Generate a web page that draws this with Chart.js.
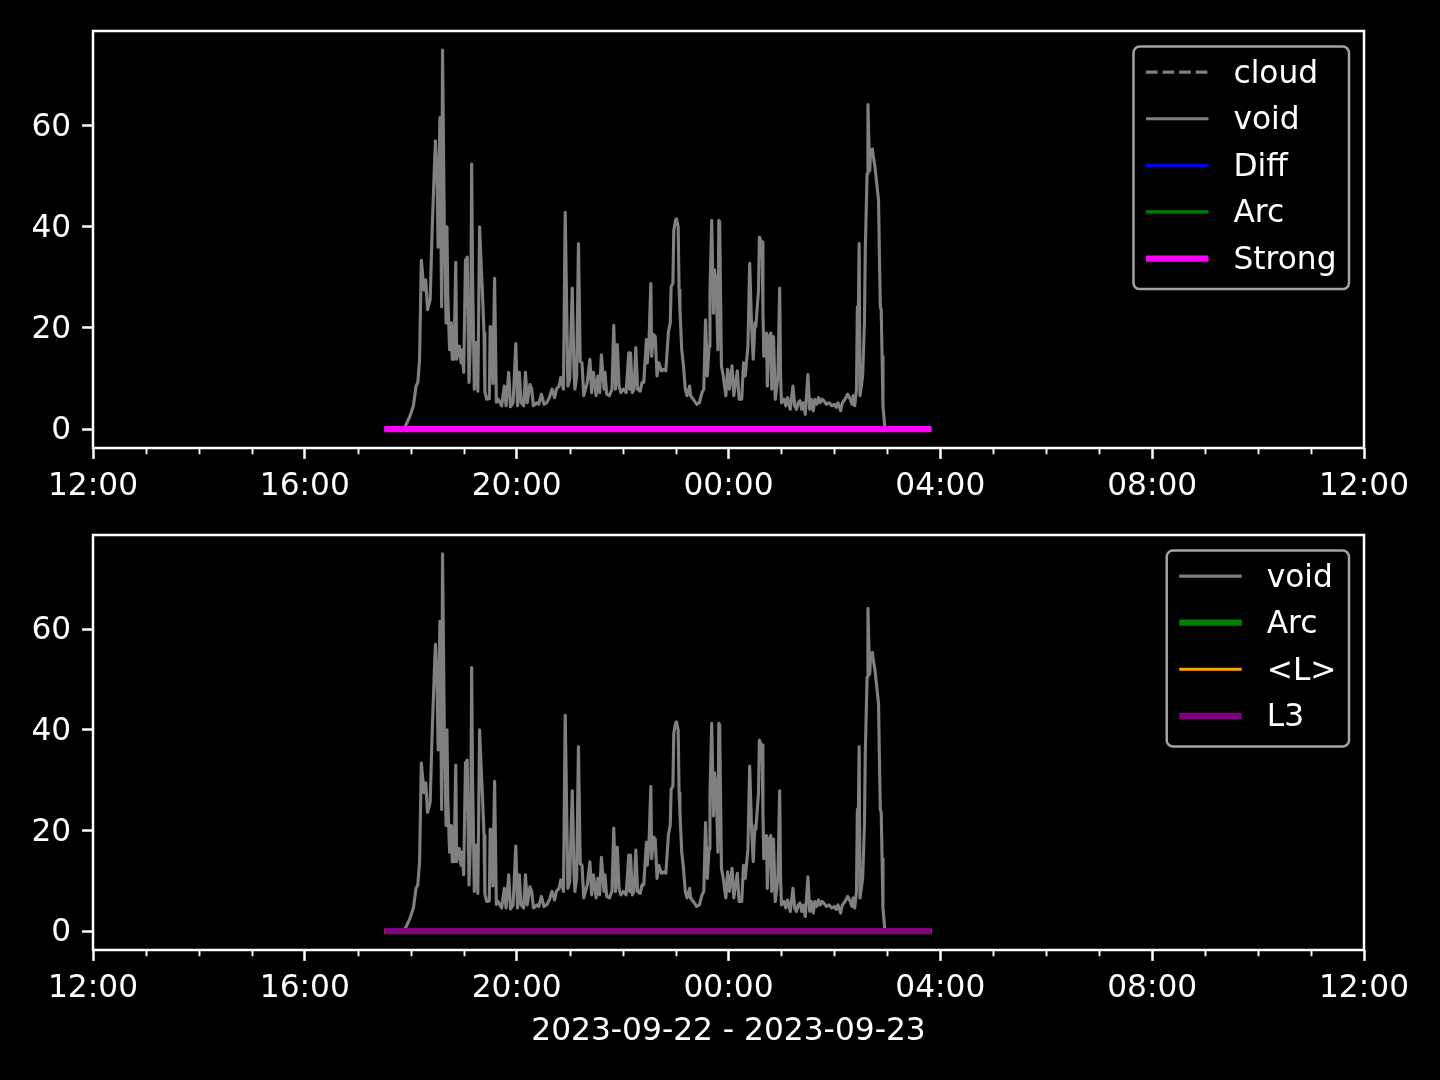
<!DOCTYPE html>
<html><head><meta charset="utf-8">
<script src="https://cdn.jsdelivr.net/npm/chart.js@4.4.1/dist/chart.umd.min.js"></script>
<style>
html,body{margin:0;padding:0;background:#000;width:1440px;height:1080px;overflow:hidden}
canvas{position:absolute;left:0}
#c1{top:0}
#c2{top:500px}
</style></head><body>
<canvas id="c1" width="1440" height="500"></canvas>
<canvas id="c2" width="1440" height="580"></canvas>
<script>
// ---- data (x = minutes after 2023-09-22 12:00) ----
const voidMinutes = [330,352,354,359,363,366,368,370,372,375,377,379,382,384,387,388,390,391,393,395,396,398,400,401,402,404,406,407,409,411,412,415,417,418,420,422,424,426,428,429,430,432,434,436,438,440,441,443,444,446,449,450,452,453,455,457,459,463,466,468,471,473,476,479,481,483,485,488,490,492,495,497,499,503,505,508,511,514,517,520,523,525,528,530,533,535,538,540,543,545,546,548,550,552,554,556,558,560,563,565,567,570,572,574,576,579,580,582,585,588,590,592,594,596,598,601,604,607,608,609,611,613,615,617,620,622,624,627,628,630,632,633,635,637,639,641,644,647,649,652,654,655,657,658,660,661,663,664,665,667,669,671,673,676,677,680,684,687,690,692,694,696,698,699,701,703,704,706,708,709,710,712,714,717,719,721,724,726,728,730,732,735,737,739,742,744,746,748,750,751,754,755,756,758,759,760,763,764,766,768,769,771,773,776,778,779,780,783,785,787,790,793,795,797,799,801,803,805,807,808,810,812,814,816,818,820,822,824,826,828,831,834,837,840,842,844,847,849,852,855,858,860,861,863,865,866,867,868,869,871,872,874,875,877,878,879,880,881,883,884,886,888,890,891,892,893,894,895,897,898,950];
const voidValues = [0,0.2,0.6,2.5,4.6,8.5,9.2,13.8,33.4,27.5,29.5,23.6,25.6,38,53,57,47.8,36,61.6,24.2,75,40,21,40,26.2,15.7,21,13.8,13.8,33,13.8,16.4,13.1,15.7,11.2,33.4,34,9.2,20,52.4,31,7.9,17.1,7.5,40,31.5,28,19,7.3,5.9,6,20.3,20,9,29.8,5.3,5.9,4.6,8.5,4.6,11.2,4.4,5.2,16.9,4.6,11.2,5.2,4.6,11.2,5.2,8.8,7.9,4.6,5.2,4.9,6.9,4.9,5.2,6.2,7.9,6.2,7.9,8.5,10.2,7.9,42.9,8.5,9.8,27.9,11.2,7.9,10.5,36.7,13.4,13.1,6.6,7.9,9.2,13.8,7.2,11.2,6.6,10.5,7.2,14.7,7.9,11.2,6.9,6.6,7.9,20.5,7.9,16.7,8.5,7.2,7.9,7.2,15.1,7.9,15.1,7.2,7.9,16.1,7.9,7.5,9.2,9.2,17.7,13.1,17.7,28.8,14.4,18.7,18.3,10.5,13.1,11.5,11.8,11.5,19.3,21,28.2,28.8,39.3,41.3,41.6,40,27.5,23.6,15.7,12.5,7.9,6.6,8.5,6.6,5.9,4.9,5.2,7.2,7.9,21.6,10.5,16.4,27,41.3,22.9,31.5,28.8,15.7,41.3,41,12.5,10.5,6.6,11.8,7.9,12.5,6.6,9.2,11.5,5.9,5.9,13.1,10.5,16.4,32.8,21,13.8,21,20.3,27.5,38,37.4,37,23.6,14.4,19,8.5,18.3,19,7.9,18.3,5.9,10.5,27.9,10.5,5.2,5.9,4.6,6.2,3.9,8.5,4.6,3.9,5.2,5.6,3.9,5.2,2.9,5.6,10.8,3.9,5.9,3.6,5.9,4.9,6.2,5.2,5.9,5.6,4.9,5.2,4.6,4.9,4.3,5.2,3.6,5.2,5.9,6.9,5.9,4.9,6.6,4.6,7.9,24.2,21,36.7,6.6,9.2,10.5,21,35.4,50.5,64.2,57,51.1,55,55.4,54,51.8,48.5,45.2,34,24.2,23.6,14.4,4.6,0.6,0,0];
// series that stay at zero from 17:30 to 03:50
const flatMinutes = [330, 950];
const cloudValues = [0, 0];
const diffValues = [0, 0];
const arcValues = [0, 0];
const strongValues = [0, 0];
const meanLValues = [0, 0];
const l3Values = [0, 0];
// axes
const xTickMinutes = [0, 240, 480, 720, 960, 1200, 1440];
const xTickLabels = ['12:00', '16:00', '20:00', '00:00', '04:00', '08:00', '12:00'];
const xMinorStep = 60;
const yTicks = [0, 20, 40, 60];
const yMin = -3.75, yMax = 78.75;
const dateLabel = '2023-09-22 - 2023-09-23';

// ---- styling ----
const FS = 31.25;
const FONT = "'DejaVu Sans', sans-serif";
Chart.defaults.font.family = FONT;
Chart.defaults.font.size = FS;
Chart.defaults.color = '#ffffff';

const pts = (xs, ys) => xs.map((m, i) => ({x: m, y: ys[i]}));

const framePlugin = {
  id: 'framePlugin',
  afterDraw(chart) {
    const {ctx, chartArea: a} = chart;
    const xs = chart.scales.x;
    ctx.save();
    // minor ticks
    ctx.strokeStyle = '#ffffff';
    ctx.lineWidth = 1.9;
    for (let m = xMinorStep; m < xs.max; m += xMinorStep) {
      if (xTickMinutes.includes(m)) continue;
      const px = Math.round(xs.getPixelForValue(m)) + 0.5;
      ctx.beginPath();
      ctx.moveTo(px, a.bottom);
      ctx.lineTo(px, a.bottom + 6.25);
      ctx.stroke();
    }
    // spines
    ctx.lineWidth = 2.5;
    ctx.strokeRect(a.left, a.top, a.right - a.left, a.bottom - a.top);
    ctx.restore();
    // legend
    const items = chart.data.datasets;
    ctx.save();
    ctx.font = FS + 'px ' + FONT;
    const textW = Math.max(...items.map(d => ctx.measureText(d.label).width));
    const pad = 0.4 * FS, hl = 2 * FS, htp = 0.8 * FS;
    const w = pad + hl + htp + textW + pad;
    const rowGap = 46.6, firstRow = 25.6;
    const h = firstRow + (items.length - 1) * rowGap + 30.6;
    const right = a.right - 15, top = a.top + 15.5;
    const left = right - w;
    const r = 6.25;
    ctx.beginPath();
    ctx.moveTo(left + r, top);
    ctx.lineTo(right - r, top);
    ctx.arcTo(right, top, right, top + r, r);
    ctx.lineTo(right, top + h - r);
    ctx.arcTo(right, top + h, right - r, top + h, r);
    ctx.lineTo(left + r, top + h);
    ctx.arcTo(left, top + h, left, top + h - r, r);
    ctx.lineTo(left, top + r);
    ctx.arcTo(left, top, left + r, top, r);
    ctx.closePath();
    ctx.fillStyle = 'rgba(0,0,0,0.8)';
    ctx.fill();
    ctx.strokeStyle = 'rgba(204,204,204,0.8)';
    ctx.lineWidth = 2.5;
    ctx.stroke();
    items.forEach((d, i) => {
      const y = top + firstRow + i * rowGap;
      ctx.beginPath();
      ctx.setLineDash(d.borderDash || []);
      ctx.strokeStyle = d.borderColor;
      ctx.lineWidth = d.borderWidth;
      ctx.lineCap = 'butt';
      ctx.moveTo(left + pad, y);
      ctx.lineTo(left + pad + hl, y);
      ctx.stroke();
      ctx.setLineDash([]);
      ctx.fillStyle = '#ffffff';
      ctx.textBaseline = 'alphabetic';
      ctx.textAlign = 'left';
      ctx.fillText(d.label, left + pad + hl + htp, y + 10.5);
    });
    ctx.restore();
  }
};

function lineDs(label, xs, ys, color, width, order, dash) {
  return {
    label, data: pts(xs, ys), borderColor: color, backgroundColor: color,
    borderWidth: width, borderDash: dash || [], pointRadius: 0, pointHoverRadius: 0,
    fill: false, tension: 0, borderCapStyle: 'butt', borderJoinStyle: 'round', order
  };
}

function makeOptions(padTop, xHeight, withTitle) {
  return {
    responsive: false, animation: false, devicePixelRatio: 1,
    layout: {padding: {top: padTop, right: 76, bottom: 0, left: 0}},
    plugins: {legend: {display: false}, tooltip: {enabled: false}},
    events: [],
    scales: {
      x: {
        type: 'linear', min: 0, max: 1440,
        afterBuildTicks: s => { s.ticks = xTickMinutes.map(v => ({value: v})); },
        afterFit: s => { s.height = xHeight; },
        ticks: {autoSkip: false, maxRotation: 0, padding: 9, color: '#ffffff',
          callback: (v, i) => xTickLabels[i]},
        grid: {drawOnChartArea: false, drawTicks: true, tickLength: 10.9, tickWidth: 2.5,
          tickColor: '#ffffff', color: '#ffffff'},
        border: {display: false},
        title: withTitle ? {display: true, text: dateLabel, color: '#ffffff',
          font: {size: FS}, padding: {top: 0, bottom: 29}} : {display: false}
      },
      y: {
        type: 'linear', min: yMin, max: yMax,
        afterBuildTicks: s => { s.ticks = yTicks.map(v => ({value: v})); },
        afterFit: s => { s.width = 93; },
        ticks: {padding: 10.9, labelOffset: 2, color: '#ffffff', callback: v => String(v)},
        grid: {drawOnChartArea: false, drawTicks: true, tickLength: 10.9, tickWidth: 2.5,
          tickColor: '#ffffff', color: '#ffffff'},
        border: {display: false}
      }
    }
  };
}

new Chart(document.getElementById('c1'), {
  type: 'line',
  data: {datasets: [
    lineDs('cloud', flatMinutes, cloudValues, '#808080', 3.125, 4, [11.6, 5]),
    lineDs('void', voidMinutes, voidValues, '#808080', 3.125, 3),
    lineDs('Diff', flatMinutes, diffValues, '#0000ff', 3.125, 2),
    lineDs('Arc', flatMinutes, arcValues, '#008000', 3.125, 1),
    lineDs('Strong', flatMinutes, strongValues, '#ff00ff', 6.25, 0)
  ]},
  options: makeOptions(31, 52, false),
  plugins: [framePlugin]
});

new Chart(document.getElementById('c2'), {
  type: 'line',
  data: {datasets: [
    lineDs('void', voidMinutes, voidValues, '#808080', 3.125, 3),
    lineDs('Arc', flatMinutes, arcValues, '#008000', 6.25, 2),
    lineDs('<L>', flatMinutes, meanLValues, '#ffa500', 3.125, 1),
    lineDs('L3', flatMinutes, l3Values, '#800080', 6.25, 0)
  ]},
  options: makeOptions(35, 130, true),
  plugins: [framePlugin]
});
</script>
</body></html>
